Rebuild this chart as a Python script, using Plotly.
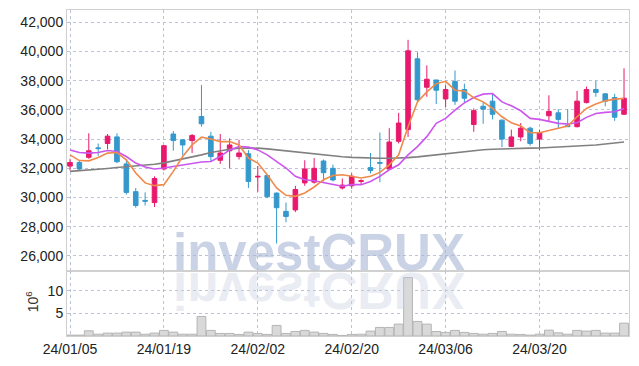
import plotly.graph_objects as go

dates = ["24/01/05","24/01/08","24/01/09","24/01/10","24/01/11","24/01/12","24/01/15","24/01/16","24/01/17","24/01/18",
         "24/01/19","24/01/22","24/01/23","24/01/24","24/01/25","24/01/26","24/01/29","24/01/30","24/01/31","24/02/01",
         "24/02/02","24/02/05","24/02/06","24/02/07","24/02/08","24/02/13","24/02/14","24/02/15","24/02/16","24/02/19",
         "24/02/20","24/02/21","24/02/22","24/02/23","24/02/26","24/02/27","24/02/28","24/02/29","24/03/04","24/03/05",
         "24/03/06","24/03/07","24/03/08","24/03/11","24/03/12","24/03/13","24/03/14","24/03/15","24/03/18","24/03/19",
         "24/03/20","24/03/21","24/03/22","24/03/25","24/03/26","24/03/27","24/03/28","24/03/29","24/04/01","24/04/02"]

opens = [32150,32400,32750,33400,33700,34150,32300,30400,29800,29650,
         31950,34350,33950,33900,35550,34200,32550,33200,32800,33000,
         31400,31500,30300,29050,29150,31000,31050,32500,32000,30650,
         30800,31100,32050,32400,31950,33850,34650,39500,37550,38050,
         36750,37950,37400,35000,36250,36600,35300,33500,34150,34750,
         34000,35600,35800,34950,34850,36500,37400,37100,36850,35700]
highs = [32650,32500,34400,33700,34350,34400,32600,30650,30350,31450,
         33600,34550,34000,34350,37700,34500,34350,34050,33950,33250,
         32150,31550,30350,29650,30800,32550,32700,32600,32250,31300,
         31650,31250,33050,34450,34750,35800,40800,39950,39050,38050,
         37700,38700,37800,36100,36550,37100,35350,34650,35100,34850,
         34650,37000,36050,36050,37300,37600,38000,37150,37100,38850]
lows = [31850,31850,32650,32850,33300,32350,30200,29300,29450,29350,
        31850,33200,32900,33050,34850,32450,32300,32000,32600,30650,
        30400,29950,26850,28300,29000,30800,30950,31100,31100,30550,
        30600,30900,31650,31050,31900,33700,34150,36550,36900,36400,
        36200,36350,36550,34500,35050,35350,33450,33450,33850,33550,
        33250,35200,34750,34850,34800,36450,36900,36250,35250,35650]
closes = [32400,31950,33200,33350,34200,32450,30350,29450,29750,31300,
          33550,33900,33600,34250,35050,32800,33050,33600,33050,31100,
          31450,30050,29300,28700,30550,31950,32000,31700,31200,30850,
          31450,31150,31850,32350,33800,35100,40050,36700,38100,37350,
          37400,36600,36800,35950,36050,35700,34000,34150,34750,33700,
          34450,35900,35350,34850,36600,37400,37200,36600,35500,36800]

ma5 = [32920,32530,32510,32740,33040,33080,32580,31680,31000,30810,
       30880,31790,32810,33600,34130,34010,33830,33830,33600,32700,
       32360,31560,30660,30150,30080,30310,30720,31220,31510,31560,
       31450,31340,31450,31720,32240,32920,34850,36550,37230,37800,
       37960,37350,37300,36830,36550,36100,35530,35120,34900,34440,
       34440,34580,34740,34900,35530,36100,36400,36620,36740,36780]
ma10 = [33260,33080,33040,33080,33220,33150,32810,32360,32090,31950,
        32020,32130,32240,32360,32430,32470,32810,33260,33490,33450,
        33260,32920,32470,32020,31450,31220,31150,31040,30880,30770,
        30880,30880,31100,31450,31900,32240,32920,33490,34170,35080,
        35420,35990,36480,36850,37080,37120,36550,36280,35940,35420,
        35350,35190,35080,35030,35120,35490,35760,35830,35870,36100]
ma60 = [31790,31830,31880,31930,31990,32050,32100,32150,32210,32280,
        32370,32500,32650,32800,32920,33080,33200,33300,33370,33390,
        33380,33330,33260,33180,33110,33050,32990,32920,32860,32790,
        32750,32720,32700,32690,32690,32700,32730,32780,32850,32930,
        33000,33080,33150,33220,33270,33310,33340,33360,33370,33380,
        33390,33420,33450,33480,33510,33550,33600,33660,33730,33800]

volume_m = [0.2,0.2,1.15,0.4,0.64,0.64,0.86,0.86,0.4,0.64,
            1.24,0.86,0.4,0.4,4.33,1.24,0.57,0.57,0.35,0.86,
            0.57,0.35,2.34,0.57,1.0,1.24,0.86,0.57,0.35,0.12,
            0.35,0.4,1.08,1.9,1.9,2.63,12.96,3.23,2.63,1.0,
            0.8,1.24,0.8,0.57,0.4,0.57,1.0,0.4,0.35,0.2,
            0.4,1.3,0.7,0.4,1.24,1.08,1.24,0.64,0.64,2.85]

tick_dates = ["24/01/05","24/01/19","24/02/02","24/02/20","24/03/06","24/03/20"]
price_ticks = [26000,28000,30000,32000,34000,36000,38000,40000,42000]
vol_ticks = [5,10]

UP = "#e8196c"
DOWN = "#3498cc"
GRID = "#bcc3d6"
FRAME = "#d0d0d0"
TICKFONT = dict(family="Liberation Sans Narrow, Liberation Sans, sans-serif", size=14, color="#222222")

fig = go.Figure()
fig.add_trace(go.Bar(x=dates, y=volume_m, xaxis="x2", yaxis="y2",
                     marker=dict(color="#d9d9d9", line=dict(color="#b5b5b5", width=1)),
                     hoverinfo="skip"))
fig.add_trace(go.Candlestick(x=dates, open=opens, high=highs, low=lows, close=closes,
                             increasing=dict(line=dict(color=UP, width=1), fillcolor=UP),
                             decreasing=dict(line=dict(color=DOWN, width=1), fillcolor=DOWN),
                             whiskerwidth=0, hoverinfo="skip"))
fig.add_trace(go.Scatter(x=dates, y=ma60, mode="lines", line=dict(color="#808080", width=1.6), hoverinfo="skip"))
fig.add_trace(go.Scatter(x=dates, y=ma10, mode="lines", line=dict(color="#cc55ee", width=1.6), hoverinfo="skip"))
fig.add_trace(go.Scatter(x=dates, y=ma5, mode="lines", line=dict(color="#f08a4b", width=1.6), hoverinfo="skip"))

xcommon = dict(type="category", range=[-0.32, 59.53], tickvals=tick_dates, ticktext=tick_dates,
               showgrid=True, gridcolor=GRID, griddash="dot", gridwidth=1,
               showline=True, linecolor=FRAME, linewidth=1, mirror=True, ticks="", zeroline=False,
               tickfont=TICKFONT)

fig.update_layout(
    width=639, height=366,
    margin=dict(l=67, r=9, t=9, b=29),
    paper_bgcolor="white", plot_bgcolor="white",
    showlegend=False,
    bargap=0.06,
    xaxis=dict(**xcommon, anchor="y", showticklabels=False, rangeslider=dict(visible=False)),
    xaxis2=dict(**xcommon, anchor="y2", matches="x", showticklabels=True),
    yaxis=dict(domain=[0.198, 1], range=[24934, 42844], tickvals=price_ticks, tickformat=",",
               showgrid=True, gridcolor=GRID, griddash="dot", showline=True, linecolor=FRAME,
               mirror=True, ticks="", zeroline=False, tickfont=TICKFONT),
    yaxis2=dict(domain=[0, 0.198], range=[0, 14.3], tickvals=vol_ticks,
                showgrid=True, gridcolor=GRID, griddash="dot", showline=True, linecolor=FRAME,
                mirror=True, ticks="", zeroline=False, tickfont=TICKFONT),
    annotations=[
        dict(text="<b>investCRUX</b>", xref="paper", yref="paper", x=0.4476, y=0.1616,
             xanchor="center", yanchor="bottom", showarrow=False,
             font=dict(family="Liberation Sans, Arial, sans-serif", size=51, color="rgba(170,182,214,0.62)")),
        dict(text="<b>investCRUX</b>", xref="paper", yref="paper", x=0.4476, y=0.2317,
             xanchor="center", yanchor="top", showarrow=False,
             font=dict(family="Liberation Sans, Arial, sans-serif", size=51, color="rgba(205,210,228,0.42)")),
        dict(text="10<sup>6</sup>", xref="paper", yref="paper", x=-0.0622, y=0.1067,
             xanchor="center", yanchor="middle", textangle=-90, showarrow=False,
             font=dict(family="Liberation Sans Narrow, Liberation Sans, sans-serif", size=14, color="#333333")),
    ],
)

post = """
document.body.style.margin = '0';
document.body.style.padding = '0';
var gd = document.querySelector('.plotly-graph-div');
function flipRefl(){
  var a = gd.querySelector('g.annotation[data-index="1"]');
  if(!a) return;
  var t = a.querySelector('text');
  if(!t) return;
  var b = t.getBBox();
  var cy = b.y + b.height/2;
  t.setAttribute('transform', 'translate(0,' + (2*cy) + ') scale(1,-1)');
}
flipRefl();
"""

fig.write_html("out.html", post_script=post, config={"displayModeBar": False})
